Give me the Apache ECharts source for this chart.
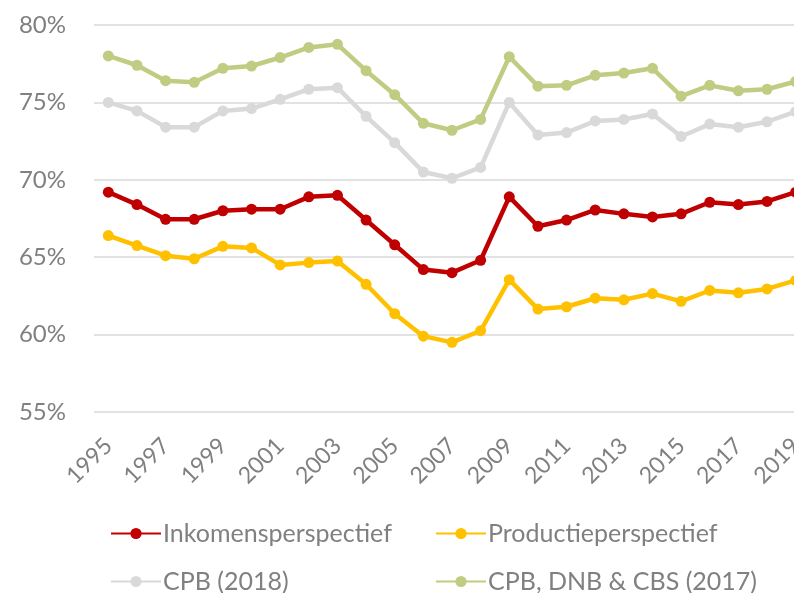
<!DOCTYPE html>
<html>
<head>
<meta charset="utf-8">
<script src="https://cdn.jsdelivr.net/npm/echarts@6/dist/echarts.min.js"></script>
<style>
  html, body { margin: 0; padding: 0; overflow: hidden; background: #fff; }
  #chart { width: 810px; height: 593px; }
</style>
</head>
<body>
<div id="chart"></div>
<script>
var years = ["1995", "1996", "1997", "1998", "1999", "2000", "2001", "2002", "2003", "2004",
  "2005", "2006", "2007", "2008", "2009", "2010", "2011", "2012", "2013", "2014",
  "2015", "2016", "2017", "2018", "2019"];

var inkomens = [69.2, 68.4, 67.45, 67.45, 68.0, 68.1, 68.1, 68.9, 69.0, 67.4,
  65.8, 64.2, 64.0, 64.8, 68.9, 67.0, 67.4, 68.05, 67.8, 67.6,
  67.8, 68.55, 68.4, 68.6, 69.2];
var productie = [66.4, 65.75, 65.1, 64.9, 65.7, 65.6, 64.5, 64.65, 64.75, 63.25,
  61.35, 59.9, 59.5, 60.25, 63.55, 61.65, 61.8, 62.35, 62.25, 62.65,
  62.15, 62.85, 62.7, 62.95, 63.5];
var cpb2018 = [75.0, 74.45, 73.4, 73.4, 74.45, 74.6, 75.2, 75.85, 75.95, 74.1,
  72.4, 70.5, 70.1, 70.8, 75.0, 72.9, 73.05, 73.8, 73.9, 74.25,
  72.8, 73.6, 73.4, 73.75, 74.4];
var cpbDnbCbs = [78.0, 77.4, 76.4, 76.3, 77.2, 77.35, 77.9, 78.55, 78.75, 77.05,
  75.5, 73.65, 73.2, 73.9, 77.95, 76.05, 76.1, 76.75, 76.9, 77.2,
  75.4, 76.1, 75.75, 75.85, 76.35];

var seriesNames = ["Inkomensperspectief", "Productieperspectief", "CPB (2018)", "CPB, DNB & CBS (2017)"];
var colors = ["#c00000", "#ffc000", "#d9d9d9", "#c1cc83"];
var values = [inkomens, productie, cpb2018, cpbDnbCbs];

var myChart = echarts.init(document.getElementById("chart"));

// one legend per item so the two columns line up like the original
var legendPos = [
  { left: 110, top: 521 },
  { left: 435, top: 521 },
  { left: 110, top: 569 },
  { left: 435, top: 569 }
];

var legends = seriesNames.map(function (name, i) {
  return {
    data: [name],
    left: legendPos[i].left,
    top: legendPos[i].top,
    padding: 0,
    itemWidth: 50,
    itemHeight: 14,
    selectedMode: false,
    textStyle: {
      color: "#808080",
      fontSize: 25,
      fontFamily: "Lato",
      padding: [0, 0, 0, -3]
    }
  };
});

myChart.setOption({
  animation: false,
  color: colors,
  legend: legends,
  grid: {
    left: 94,
    right: 0,
    top: 25,
    bottom: 181
  },
  xAxis: {
    type: "category",
    data: years,
    boundaryGap: true,
    axisLine: { show: false },
    axisTick: { show: false },
    axisLabel: {
      interval: 1,
      rotate: 45,
      margin: 30,
      color: "#808080",
      fontSize: 23,
      fontFamily: "Lato"
    }
  },
  yAxis: {
    type: "value",
    min: 55,
    max: 80,
    interval: 5,
    axisLine: { show: false },
    axisTick: { show: false },
    axisLabel: {
      formatter: "{value}%",
      margin: 28,
      color: "#808080",
      fontSize: 24,
      fontFamily: "Lato"
    },
    splitLine: {
      lineStyle: { color: "#d9d9d9", width: 1.5 }
    }
  },
  series: seriesNames.map(function (name, i) {
    return {
      name: name,
      type: "line",
      data: values[i],
      symbol: "circle",
      symbolSize: 11,
      lineStyle: { width: 4.5, color: colors[i] },
      itemStyle: { color: colors[i] }
    };
  })
});
</script>
</body>
</html>
